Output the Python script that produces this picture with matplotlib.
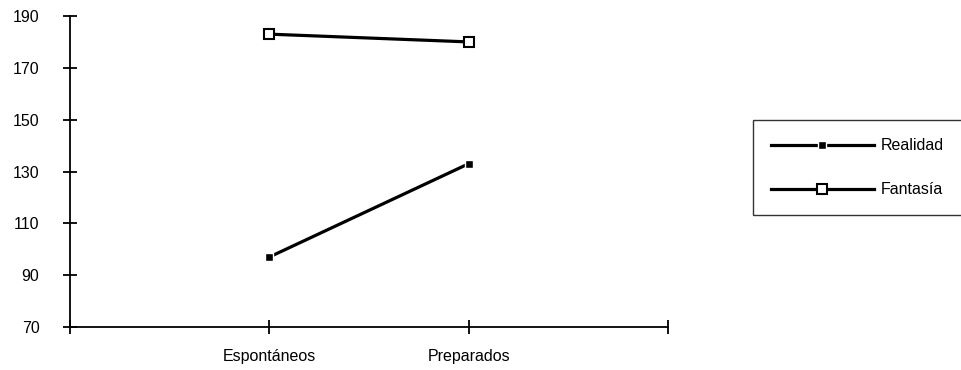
import matplotlib
matplotlib.use("Agg")
import matplotlib.pyplot as plt

plt.rcParams['font.family'] = ['Liberation Sans', 'DejaVu Sans']

# datos
categorias = ['Espontáneos', 'Preparados']
realidad = [97, 133]
fantasia = [183, 180]
yticks = [70, 90, 110, 130, 150, 170, 190]

fig = plt.figure(figsize=(9.62, 3.70), dpi=100)
ax = fig.add_axes([70 / 962, 1 - 327 / 370, (668 - 70) / 962, (327 - 16) / 370])

xs = [1, 2]
l1, = ax.plot(xs, realidad, color='black', lw=2.3, marker='s', ms=6,
              mfc='black', mec='white', mew=1.0, label='Realidad')
l2, = ax.plot(xs, fantasia, color='black', lw=2.3, marker='s', ms=7,
              mfc='white', mec='black', mew=1.5, label='Fantasía')

ax.set_xlim(0, 3)
ax.set_ylim(70, 190)
ax.set_yticks(yticks)
ax.set_xticks([0, 1, 2, 3])
ax.set_xticklabels([''] + categorias + [''])
ax.tick_params(axis='both', direction='inout', length=10, width=1.3, labelsize=11.5)
ax.tick_params(axis='x', pad=11)
ax.tick_params(axis='y', pad=17)
for s in ['top', 'right']:
    ax.spines[s].set_visible(False)
for s in ['left', 'bottom']:
    ax.spines[s].set_linewidth(1.3)

# leyenda: el borde derecho queda fuera de la imagen
leg = fig.legend(handles=[l1, l2], loc='upper left', mode='expand',
                 bbox_to_anchor=(753 / 962, 1 - 120 / 370, (975 - 753) / 962, 0),
                 frameon=True, fancybox=False, edgecolor='black',
                 fontsize=11.5, handlelength=6.4, handletextpad=0.45,
                 labelspacing=1.8, borderpad=1.15, borderaxespad=0)
leg.get_frame().set_linewidth(1.0)

fig.savefig('out.png', dpi=100)
